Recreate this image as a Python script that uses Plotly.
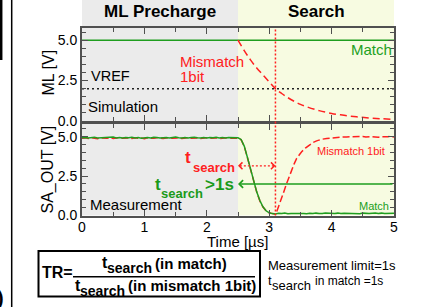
import plotly.graph_objects as go

W, H = 441, 307
FONT = "Liberation Sans, Arial, Helvetica, sans-serif"
GREEN = "#1f9e1f"
GREEN_TXT = "#22a022"
RED = "#ff2020"
AX = "#505050"

# ---------------- data ----------------
TIME_TICKS = [0, 1, 2, 3, 4, 5]
Y_TICKS = [0, 2.5, 5.0]
Y_TICK_TEXT = ["0.0", "2.5", "5.0"]
PRECHARGE_END = 2.5
T_SEARCH_MIS = 3.1

# Simulation (ML)
ml_match_t = [0, 5]
ml_match_v = [5.0, 5.0]
vref_t = [0, 5]
vref_v = [2.0, 2.0]
ml_mis_t = [2.5, 2.6, 2.7, 2.8, 2.9, 3.0, 3.1, 3.2, 3.3, 3.4, 3.5, 3.6, 3.8, 4.0, 4.2, 4.4, 4.6, 4.8, 5.0]
ml_mis_v = [5.0, 4.35, 3.78, 3.28, 2.85, 2.42, 2.0, 1.70, 1.44, 1.22, 1.03, 0.88, 0.64, 0.47, 0.35, 0.26, 0.19, 0.14, 0.10]

# Measurement (SA_OUT)
t_pre = [round(0.05 * i, 2) for i in range(51)]          # 0 .. 2.5 us
sa_match_pre = [4.93, 4.95, 4.91, 4.94, 4.96, 4.92, 4.93, 4.90, 4.95, 4.93,
                4.97, 4.92, 4.94, 4.91, 4.95, 4.93, 4.96, 4.92, 4.94, 4.90,
                4.93, 4.95, 4.92, 4.96, 4.94, 4.91, 4.93, 4.95, 4.92, 4.94,
                4.97, 4.93, 4.91, 4.95, 4.92, 4.94, 4.96, 4.93, 4.91, 4.94,
                4.92, 4.95, 4.93, 4.96, 4.92, 4.94, 4.91, 4.95, 4.93, 4.94, 4.93]
sa_mis_pre = [4.90, 4.92, 4.88, 4.93, 4.90, 4.87, 4.92, 4.91, 4.89, 4.93,
              4.88, 4.91, 4.94, 4.89, 4.90, 4.92, 4.88, 4.93, 4.90, 4.91,
              4.87, 4.92, 4.90, 4.89, 4.93, 4.90, 4.88, 4.91, 4.93, 4.89,
              4.90, 4.92, 4.88, 4.91, 4.93, 4.89, 4.90, 4.92, 4.88, 4.91,
              4.93, 4.89, 4.90, 4.92, 4.88, 4.91, 4.90, 4.93, 4.89, 4.91, 4.90]
t_drop = [2.55, 2.6, 2.65, 2.7, 2.75, 2.8, 2.85, 2.9, 2.95, 3.0]
sa_match_drop = [4.82, 4.40, 3.70, 2.95, 2.15, 1.50, 0.95, 0.55, 0.30, 0.17]
sa_mis_drop = [4.80, 4.38, 3.68, 2.93, 2.13, 1.48, 0.93, 0.54, 0.30, 0.17]
t_low = [round(3.05 + 0.05 * i, 2) for i in range(40)]    # 3.05 .. 5.0 us
sa_match_low = [0.12, 0.10, 0.14, 0.12, 0.15, 0.11, 0.13, 0.14, 0.12, 0.16,
                0.13, 0.11, 0.14, 0.12, 0.15, 0.13, 0.12, 0.16, 0.14, 0.11,
                0.13, 0.15, 0.12, 0.14, 0.13, 0.16, 0.12, 0.14, 0.11, 0.15,
                0.13, 0.12, 0.14, 0.16, 0.13, 0.15, 0.12, 0.14, 0.17, 0.15]
t_rise = [3.05, 3.1, 3.12, 3.16, 3.2, 3.24, 3.28, 3.32, 3.36, 3.4, 3.44, 3.48, 3.52,
          3.58, 3.64, 3.7, 3.76, 3.84, 3.92, 4.0, 4.08, 4.16, 4.24]
sa_mis_rise = [0.12, 0.10, 0.24, 0.65, 1.09, 1.57, 2.04, 2.47, 2.88, 3.27, 3.62, 3.86, 4.04,
               4.27, 4.46, 4.62, 4.73, 4.83, 4.88, 4.92, 4.95, 4.97, 4.98]
t_post = [round(4.3 + 0.05 * i, 2) for i in range(15)]    # 4.3 .. 5.0 us
sa_mis_post = [4.99, 4.97, 5.00, 4.98, 5.01, 4.97, 4.99, 5.00, 4.98, 4.96,
               5.00, 4.98, 4.99, 5.01, 4.98]

sa_match_t = t_pre + t_drop + t_low
sa_match_v = sa_match_pre + sa_match_drop + sa_match_low
sa_mis_t = t_pre + t_drop + t_rise + t_post
sa_mis_v = sa_mis_pre + sa_mis_drop + sa_mis_rise + sa_mis_post

ARROW_RED_Y = 3.15
ARROW_GREEN_Y = 2.0


def px(x):
    return x / W


def py(y):
    return 1 - y / H


fig = go.Figure()

# top: simulation
fig.add_trace(go.Scatter(x=vref_t, y=vref_v, xaxis="x", yaxis="y", mode="lines",
                         line=dict(color="#222222", width=1.5, dash="2px,3px")))
fig.add_trace(go.Scatter(x=ml_match_t, y=ml_match_v, xaxis="x", yaxis="y", mode="lines",
                         line=dict(color=GREEN, width=1.5)))
fig.add_trace(go.Scatter(x=ml_mis_t, y=ml_mis_v, xaxis="x", yaxis="y", mode="lines",
                         line=dict(color=RED, width=1.5, dash="7px,4px", shape="spline")))
# bottom: measurement
fig.add_trace(go.Scatter(x=sa_mis_t, y=sa_mis_v, xaxis="x2", yaxis="y2", mode="lines",
                         line=dict(color=RED, width=1.5, dash="7px,3px")))
fig.add_trace(go.Scatter(x=sa_match_t, y=sa_match_v, xaxis="x2", yaxis="y2", mode="lines",
                         line=dict(color=GREEN, width=1.5)))

XDOM = [px(82), px(394)]
axis_common = dict(showline=True, linecolor=AX, linewidth=2, mirror="allticks",
                   ticks="inside", ticklen=6, tickwidth=1.2, tickcolor=AX,
                   showgrid=False, zeroline=False, automargin=False,
                   tickfont=dict(family=FONT, size=14, color="black"))
xminor = dict(ticks="inside", ticklen=4, tickwidth=1.2, tickcolor=AX,
              tickmode="linear", tick0=0, dtick=0.5, showgrid=False)
yminor = dict(ticks="inside", ticklen=4, tickwidth=1.2, tickcolor=AX,
              tickmode="linear", tick0=0, dtick=0.5, showgrid=False)

fig.update_layout(
    template="none",
    width=W, height=H, autosize=False, margin=dict(l=0, r=0, t=0, b=0, pad=0, autoexpand=False),
    paper_bgcolor="white", plot_bgcolor="rgba(0,0,0,0)", showlegend=False,
    font=dict(family=FONT, color="black"),
    xaxis=dict(domain=XDOM, anchor="y", range=[0, 5], tickmode="array", tickvals=TIME_TICKS,
               showticklabels=False, minor=xminor, **axis_common),
    yaxis=dict(domain=[py(121), py(28)], anchor="x", range=[0, 5.75], tickmode="array",
               tickvals=Y_TICKS, ticktext=Y_TICK_TEXT, minor=yminor, **axis_common),
    xaxis2=dict(domain=XDOM, anchor="y2", range=[0, 5], tickmode="array", tickvals=TIME_TICKS,
                ticklabelstandoff=-2, minor=xminor, **axis_common),
    yaxis2=dict(domain=[py(215.5), py(124)], anchor="x2", range=[0, 5.8], tickmode="array",
                tickvals=Y_TICKS, ticktext=Y_TICK_TEXT, minor=yminor, **axis_common),
)

shapes = [
    # phase backgrounds
    dict(type="rect", xref="x", yref="paper", x0=0, x1=PRECHARGE_END, y0=py(215.5), y1=1,
         fillcolor="#ebebeb", line=dict(width=0), layer="below"),
    dict(type="rect", xref="x", yref="paper", x0=PRECHARGE_END, x1=5, y0=py(215.5), y1=1,
         fillcolor="#f7fbe1", line=dict(width=0), layer="below"),
    # t_search marker line
    dict(type="line", xref="x", yref="paper", x0=T_SEARCH_MIS, x1=T_SEARCH_MIS,
         y0=py(215.5), y1=py(28), line=dict(color=RED, width=1.5, dash="2px,2px")),
    # red dotted double arrow stem
    dict(type="line", xref="x2", yref="y2", x0=PRECHARGE_END + 0.03, x1=T_SEARCH_MIS - 0.03,
         y0=ARROW_RED_Y, y1=ARROW_RED_Y, line=dict(color=RED, width=1.2, dash="2px,2px")),
    # TR formula box and fraction bar
    dict(type="rect", xref="paper", yref="paper", x0=px(38.5), x1=px(260), y0=py(296.5), y1=py(251),
         line=dict(color="black", width=2), fillcolor="rgba(0,0,0,0)"),
    dict(type="line", xref="paper", yref="paper", x0=px(73), x1=px(255), y0=py(276.7), y1=py(276.7),
         line=dict(color="black", width=1.5)),
    # clipped neighbouring-figure edges on the left
    dict(type="line", xref="paper", yref="paper", x0=px(11.7), x1=px(11.7), y0=0, y1=1,
         line=dict(color="black", width=1.5)),
    dict(type="line", xref="paper", yref="paper", x0=px(1.2), x1=px(1.2), y0=py(60), y1=1,
         line=dict(color="black", width=2.5)),
]
fig.update_layout(shapes=shapes)

anns = []


def txt(s, x, y, size, color="black", bold=False, xanchor="left", angle=0):
    if bold:
        s = "<b>" + s + "</b>"
    anns.append(dict(text=s, xref="paper", yref="paper", x=px(x), y=py(y),
                     xanchor=xanchor, yanchor="middle", showarrow=False, textangle=angle,
                     font=dict(family=FONT, size=size, color=color)))


# titles
txt("ML Precharge", 160, 11.5, 17, bold=True, xanchor="center")
txt("Search", 316, 11.5, 17, bold=True, xanchor="center")
# axis titles
txt("ML [V]", 47.5, 73, 16, xanchor="center", angle=-90)
txt("SA_OUT [V]", 47.5, 170, 16, xanchor="center", angle=-90)
txt("Time [µs]", 237.5, 241, 15, xanchor="center")
# top plot labels
txt("Match", 393.5, 49.8, 15, color=GREEN_TXT, xanchor="right")
txt("Mismatch", 178, 61.4, 15, color=RED)
txt("1bit", 178, 76.4, 15, color=RED)
txt("VREF", 88.7, 76.4, 14.5)
txt("Simulation", 86.3, 106.5, 15)
# bottom plot labels
txt("Measurement", 88, 204.8, 15)
txt("Mismatch 1bit", 314.7, 151.2, 11, color=RED)
txt("Match", 391.3, 206.2, 11, color=GREEN_TXT, xanchor="right")
txt("t", 183, 157.4, 17, color=RED, bold=True)
txt("search", 190.7, 167.2, 13, color=RED, bold=True)
txt("t", 153, 184.1, 17, color="#1a9a1a", bold=True)
txt("search", 159, 193.8, 13, color="#1a9a1a", bold=True)
txt("&gt;1s", 203, 184.1, 17, color="#1a9a1a", bold=True)
# formula
txt("TR=", 39.7, 272.7, 16, bold=True)
txt("t", 99.7, 262.7, 16, bold=True)
txt("search", 104.7, 268.4, 14, bold=True)
txt("(in match)", 153, 263, 15, bold=True)
txt("t", 73, 285.4, 16, bold=True)
txt("search", 78, 290.8, 14, bold=True)
txt("(in mismatch 1bit)", 126, 285.7, 15, bold=True)
txt("Measurement limit=1s", 266, 265.4, 13)
txt("t", 266, 280.4, 13)
txt("search", 269.7, 285.5, 13)
txt("in match =1s", 313, 280.8, 12)
# clipped neighbouring-figure glyph
txt(")", 6, 298, 20, bold=True, xanchor="right")

# arrows
anns.append(dict(x=PRECHARGE_END, y=ARROW_RED_Y, ax=PRECHARGE_END + 0.06, ay=ARROW_RED_Y,
                 xref="x2", yref="y2", axref="x2", ayref="y2", text="", showarrow=True,
                 arrowhead=4, arrowsize=1.1, arrowwidth=1.2, arrowcolor=RED, standoff=0))
anns.append(dict(x=T_SEARCH_MIS, y=ARROW_RED_Y, ax=T_SEARCH_MIS - 0.06, ay=ARROW_RED_Y,
                 xref="x2", yref="y2", axref="x2", ayref="y2", text="", showarrow=True,
                 arrowhead=4, arrowsize=1.1, arrowwidth=1.2, arrowcolor=RED, standoff=0))
anns.append(dict(x=PRECHARGE_END, y=ARROW_GREEN_Y, ax=5, ay=ARROW_GREEN_Y,
                 xref="x2", yref="y2", axref="x2", ayref="y2", text="", showarrow=True,
                 arrowhead=4, arrowsize=1.0, arrowwidth=1.5, arrowcolor=GREEN, standoff=0))

fig.update_layout(annotations=anns)
fig.write_html("out.html", config={"displayModeBar": False},
               post_script="document.body.style.margin='0';document.body.style.overflow='hidden';")
